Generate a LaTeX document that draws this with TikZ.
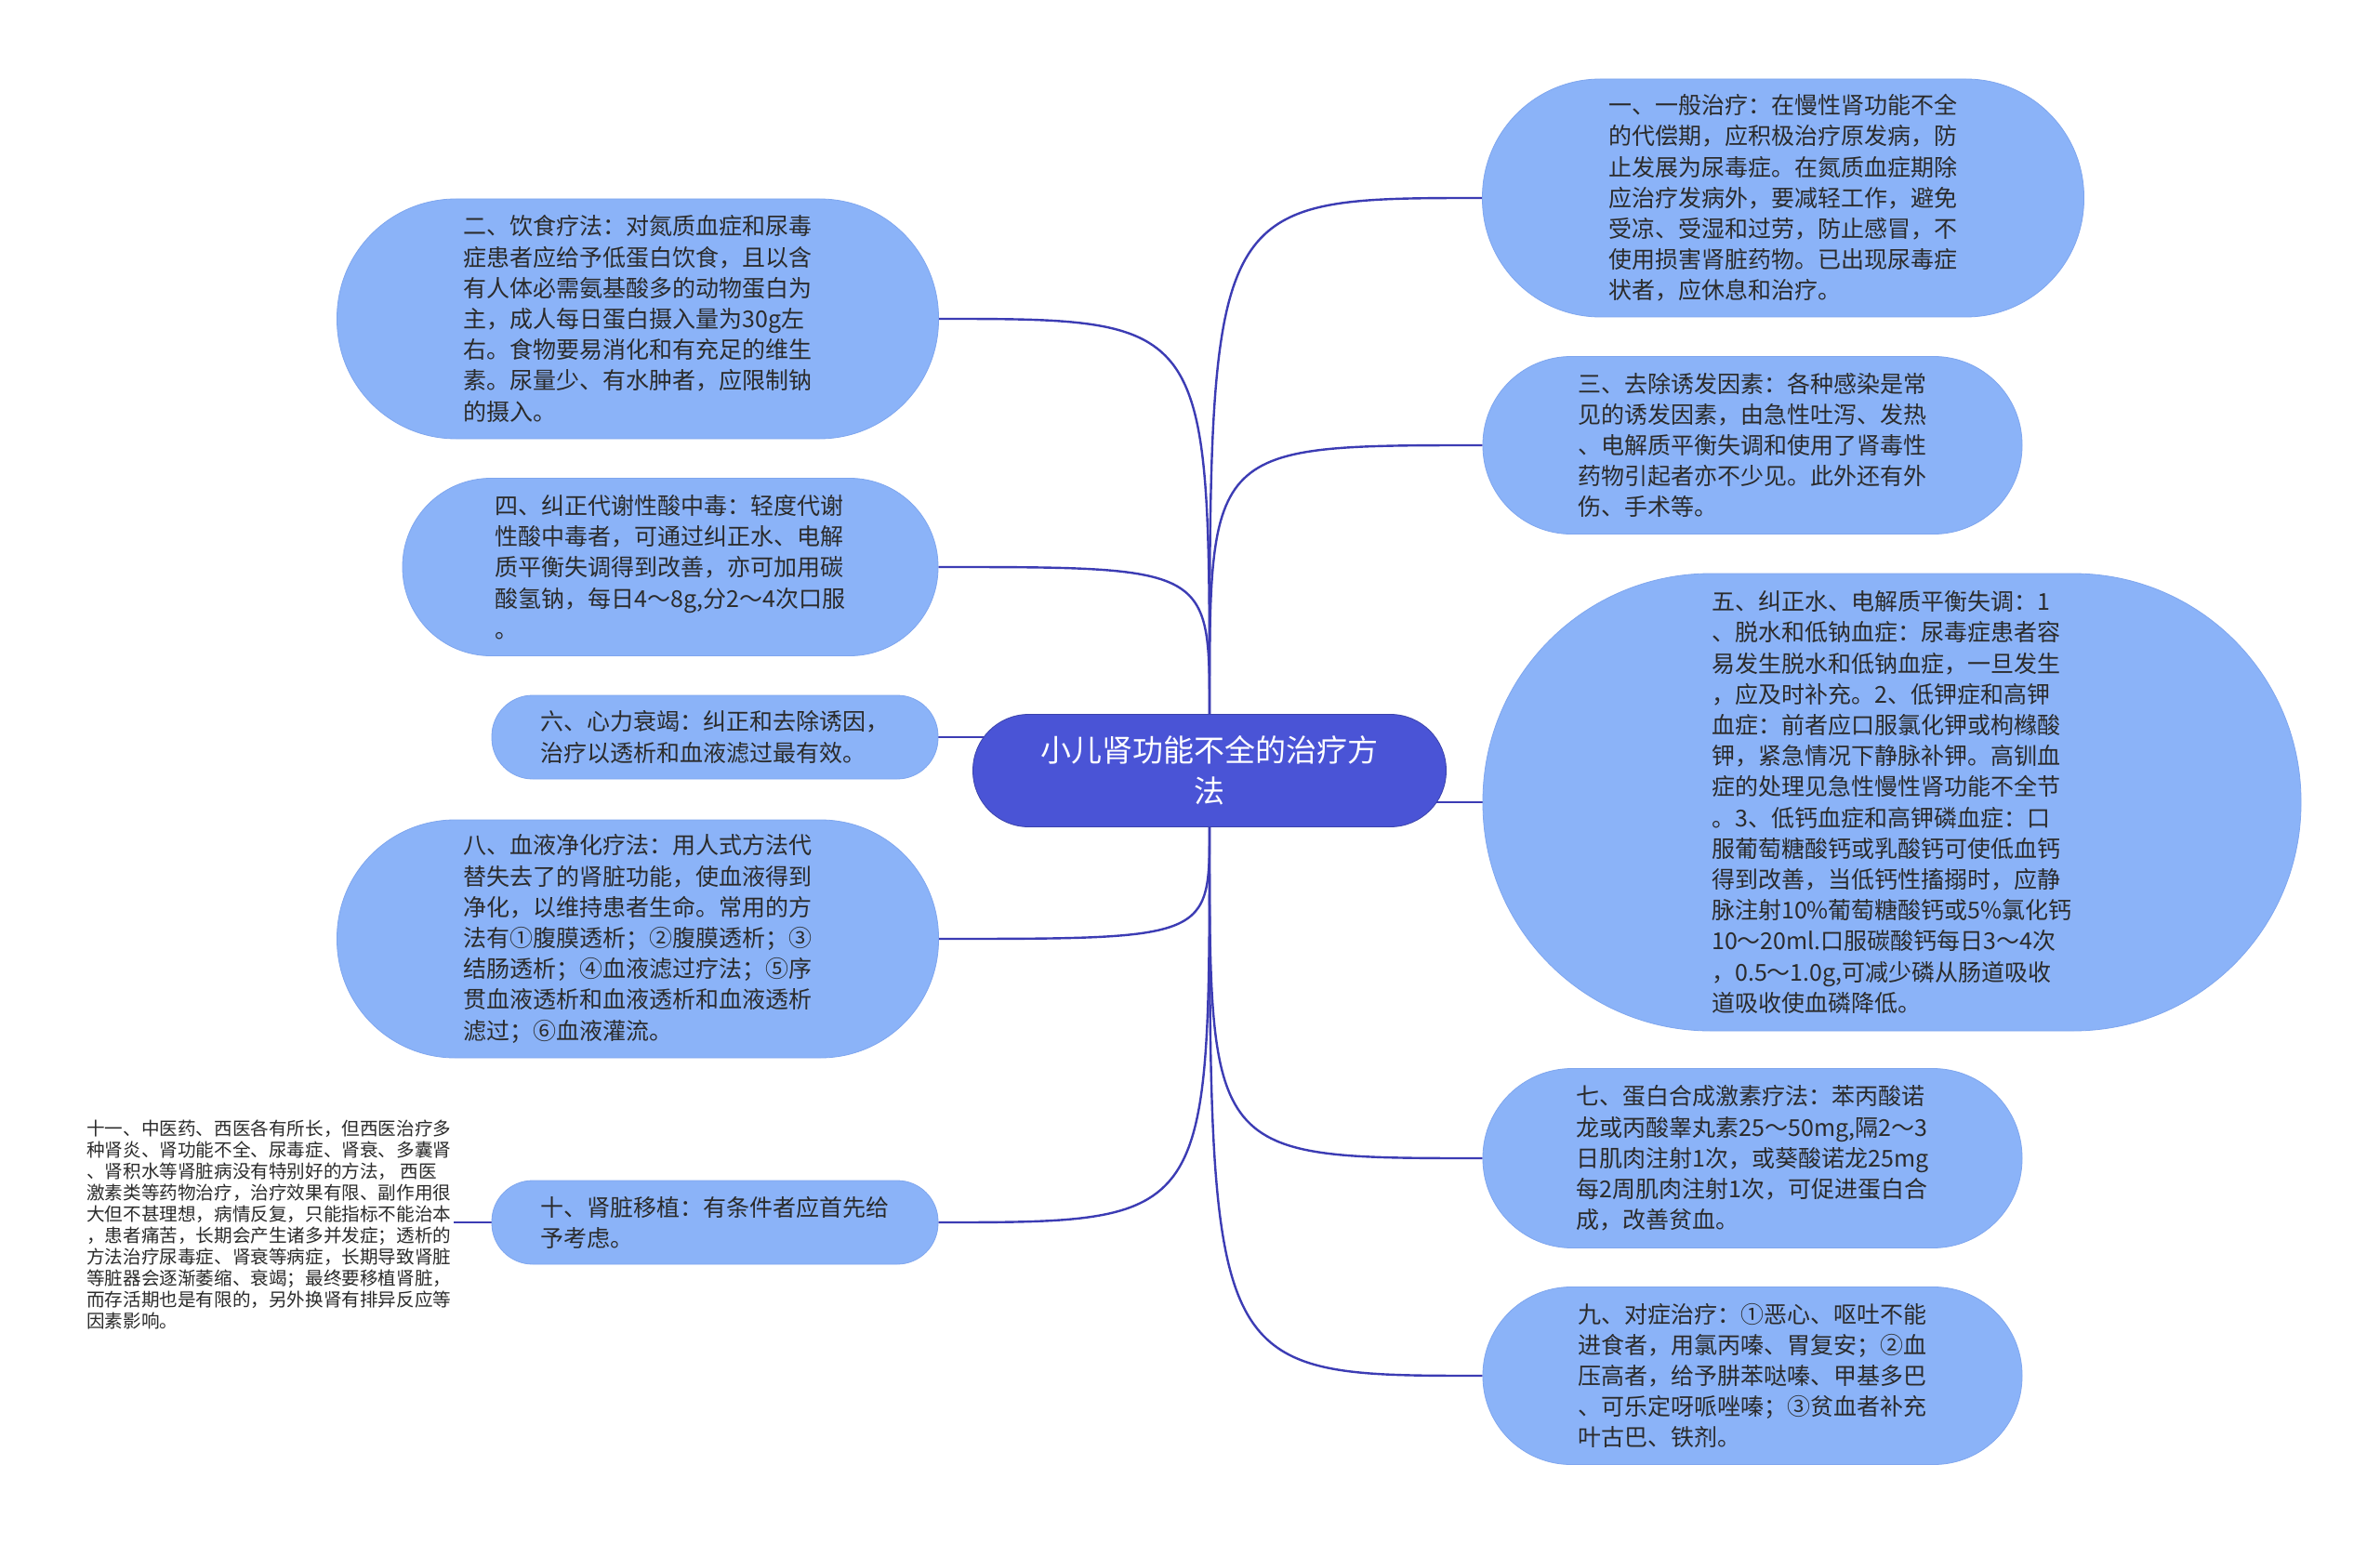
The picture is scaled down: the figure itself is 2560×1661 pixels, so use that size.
\documentclass[tikz,border=0pt]{standalone}
\usepackage{fontspec}
\newfontfamily\cjk{Noto Sans CJK SC}
\usetikzlibrary{backgrounds}
\definecolor{boxblue}{HTML}{8BB3F8}
\definecolor{boxedge}{HTML}{7FA6EE}
\definecolor{centerblue}{HTML}{4A54D6}
\definecolor{linkblue}{HTML}{3C3CB4}
\definecolor{txt}{HTML}{2B2B2B}
\tikzset{
  bx/.style={fill=boxblue, draw=boxedge, line width=0.8pt, inner sep=0pt, align=left,
    text=txt, font=\cjk\fontsize{25}{33.2}\selectfont},
  topic/.style={fill=centerblue, draw=centerblue!80!black, line width=0.8pt, inner sep=0pt, align=center,
    text=white, font=\cjk\fontsize{33}{44}\selectfont},
  note/.style={inner sep=3pt, align=left, text=txt, font=\cjk\fontsize{19.6}{23}\selectfont},
  conn/.style={draw=linkblue, line width=2.4pt}
}
\begin{document}
\begin{tikzpicture}[x=1pt,y=-1pt]
\useasboundingbox (0,0) rectangle (2560,1661);

\node[topic, minimum width=509pt, minimum height=121pt, rounded corners=60pt] (c) at (1301,829)
  {小儿肾功能不全的治疗方\\法};

\node[bx, minimum width=647pt, minimum height=256pt, rounded corners=127pt] (b1) at (1918,213)
  {一、一般治疗：在慢性肾功能不全\\的代偿期，应积极治疗原发病，防\\止发展为尿毒症。在氮质血症期除\\应治疗发病外，要减轻工作，避免\\受凉、受湿和过劳，防止感冒，不\\使用损害肾脏药物。已出现尿毒症\\状者，应休息和治疗。};

\node[bx, minimum width=647pt, minimum height=258pt, rounded corners=128pt] (b2) at (686,343)
  {二、饮食疗法：对氮质血症和尿毒\\症患者应给予低蛋白饮食，且以含\\有人体必需氨基酸多的动物蛋白为\\主，成人每日蛋白摄入量为30g左\\右。食物要易消化和有充足的维生\\素。尿量少、有水肿者，应限制钠\\的摄入。};

\node[bx, minimum width=580pt, minimum height=191pt, rounded corners=95pt] (b3) at (1885,479)
  {三、去除诱发因素：各种感染是常\\见的诱发因素，由急性吐泻、发热\\、电解质平衡失调和使用了肾毒性\\药物引起者亦不少见。此外还有外\\伤、手术等。};

\node[bx, minimum width=576pt, minimum height=191pt, rounded corners=95pt] (b4) at (721,610)
  {四、纠正代谢性酸中毒：轻度代谢\\性酸中毒者，可通过纠正水、电解\\质平衡失调得到改善，亦可加用碳\\酸氢钠，每日4～8g,分2～4次口服\\。};

\node[bx, minimum width=880pt, minimum height=492pt, rounded corners=245pt] (b5) at (2035,863)
  {五、纠正水、电解质平衡失调：1\\、脱水和低钠血症：尿毒症患者容\\易发生脱水和低钠血症，一旦发生\\，应及时补充。2、低钾症和高钾\\血症：前者应口服氯化钾或枸橼酸\\钾，紧急情况下静脉补钾。高钏血\\症的处理见急性慢性肾功能不全节\\。3、低钙血症和高钾磷血症：口\\服葡萄糖酸钙或乳酸钙可使低血钙\\得到改善，当低钙性搐搦时，应静\\脉注射10\%葡萄糖酸钙或5\%氯化钙\\10～20ml.口服碳酸钙每日3～4次\\，0.5～1.0g,可减少磷从肠道吸收\\道吸收使血磷降低。};

\node[bx, minimum width=480pt, minimum height=90pt, rounded corners=44pt] (b6) at (769,793)
  {六、心力衰竭：纠正和去除诱因，\\治疗以透析和血液滤过最有效。};

\node[bx, minimum width=580pt, minimum height=193pt, rounded corners=96pt] (b7) at (1885,1246)
  {七、蛋白合成激素疗法：苯丙酸诺\\龙或丙酸睾丸素25～50mg,隔2～3\\日肌肉注射1次，或葵酸诺龙25mg\\每2周肌肉注射1次，可促进蛋白合\\成，改善贫血。};

\node[bx, minimum width=647pt, minimum height=256pt, rounded corners=127pt] (b8) at (686,1010)
  {八、血液净化疗法：用人式方法代\\替失去了的肾脏功能，使血液得到\\净化，以维持患者生命。常用的方\\法有①腹膜透析；②腹膜透析；③\\结肠透析；④血液滤过疗法；⑤序\\贯血液透析和血液透析和血液透析\\滤过；⑥血液灌流。};

\node[bx, minimum width=580pt, minimum height=191pt, rounded corners=95pt] (b9) at (1885,1480)
  {九、对症治疗：①恶心、呕吐不能\\进食者，用氯丙嗪、胃复安；②血\\压高者，给予肼苯哒嗪、甲基多巴\\、可乐定呀哌唑嗪；③贫血者补充\\叶古巴、铁剂。};

\node[bx, minimum width=480pt, minimum height=90pt, rounded corners=44pt] (b10) at (769,1315)
  {十、肾脏移植：有条件者应首先给\\予考虑。};

\node[note, anchor=west] (b11) at (90,1317)
  {十一、中医药、西医各有所长，但西医治疗多\\种肾炎、肾功能不全、尿毒症、肾衰、多囊肾\\、肾积水等肾脏病没有特别好的方法，\ 西医\\激素类等药物治疗，治疗效果有限、副作用很\\大但不甚理想，病情反复，只能指标不能治本\\，患者痛苦，长期会产生诸多并发症；透析的\\方法治疗尿毒症、肾衰等病症，长期导致肾脏\\等脏器会逐渐萎缩、衰竭；最终要移植肾脏，\\而存活期也是有限的，另外换肾有排异反应等\\因素影响。};

\begin{scope}[on background layer]
  \fill[white] (0,0) rectangle (2560,1661);
  \draw[conn] (c.north) .. controls (c.north |- b1.west) .. (b1.west);
  \draw[conn] (c.north) .. controls (c.north |- b3.west) .. (b3.west);
  \draw[conn] (c.north) .. controls (c.north |- b2.east) .. (b2.east);
  \draw[conn] (c.north) .. controls (c.north |- b4.east) .. (b4.east);
  \draw[conn] (c.south) .. controls (c.south |- b7.west) .. (b7.west);
  \draw[conn] (c.south) .. controls (c.south |- b9.west) .. (b9.west);
  \draw[conn] (c.south) .. controls (c.south |- b8.east) .. (b8.east);
  \draw[conn] (c.south) .. controls (c.south |- b10.east) .. (b10.east);
  \draw[conn] (c.center |- b5.west) -- (b5.west);
  \draw[conn] (c.center |- b6.east) -- (b6.east);
  \draw[conn] (b10.west) -- (b10.west -| b11.east);
\end{scope}
\end{tikzpicture}
\end{document}
